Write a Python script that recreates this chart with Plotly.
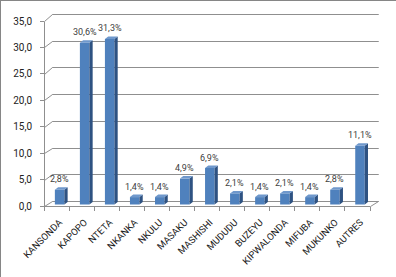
import plotly.graph_objects as go

categories = ["KANSONDA", "KAPOPO", "NTETA", "NKANKA", "NKULU", "MASAKU", "MASHISHI",
              "MUDUDU", "BUZEYU", "KIPWALONDA", "MIFUBA", "MUKUNKO", "AUTRES"]
values = [2.8, 30.6, 31.3, 1.4, 1.4, 4.9, 6.9, 2.1, 1.4, 2.1, 1.4, 2.8, 11.1]
y_ticks = [0, 5, 10, 15, 20, 25, 30, 35]
y_ticktext = ["0,0", "5,0", "10,0", "15,0", "20,0", "25,0", "30,0", "35,0"]

W, H = 396, 277
N = len(categories)
YMAX = 35
# front plane (pixels)
F_X0, F_X1, F_Y0, F_Y35 = 44, 370, 206, 21
# back wall
B_X0, B_X1, B_Y0, B_Y35 = 52, 378, 201, 14
# bar plane (middle depth)
M_X0, M_X1, M_Y0, M_Y35 = 47.1, 372.5, 204.5, 19.4


def crisp(p):
    return round(p) + 0.5


def front_py(v):
    return crisp(F_Y0 + (F_Y35 - F_Y0) * v / YMAX)


def back_py(v):
    return crisp(B_Y0 + (B_Y35 - B_Y0) * v / YMAX)


def xrange_for(x0, x1):
    u = (x1 - x0) / N
    return [-0.5 - x0 / u, N - 0.5 + (W - x1) / u]


def yrange_for(y0, y35):
    s = (y0 - y35) / YMAX
    return [-(H - y0) / s, YMAX + y35 / s]


GRID = "#8f8f8f"
FACE = "#4F81BD"
SIDE = "#2E5282"
TOP = "#6F98CC"
TXT = "#404040"
FONT = "Roboto"

fig = go.Figure()

# invisible trace to establish the categorical front axis
fig.add_trace(go.Scatter(x=categories, y=values, mode="markers", marker=dict(opacity=0),
                         hoverinfo="skip", showlegend=False, xaxis="x", yaxis="y"))

# back wall grid, connecting diagonals and front axis lines on a pixel canvas (x2/y2)
gx, gy = [], []
for v in y_ticks:
    gx += [F_X0 + 0.5, B_X0 + 0.5, B_X1 + 0.5, None]
    gy += [front_py(v), back_py(v), back_py(v), None]
gx += [F_X1 + 0.5, B_X1 + 0.5, None]
gy += [front_py(0), back_py(0), None]
gx += [F_X0 + 0.5, F_X0 + 0.5, None, F_X0, F_X1 + 0.5, None]
gy += [front_py(YMAX), front_py(0), None, front_py(0), front_py(0), None]
fig.add_trace(go.Scatter(x=gx, y=gy, mode="lines", line=dict(color=GRID, width=1),
                         hoverinfo="skip", showlegend=False, xaxis="x2", yaxis="y2"))

idx = list(range(N))
half = 0.19
dx = 0.13
dy = 0.47

fig.add_trace(go.Bar(x=idx, y=values, width=2 * half, marker=dict(color=FACE, line=dict(width=0)),
                     showlegend=False, xaxis="x3", yaxis="y3", hoverinfo="skip"))

sx, sy, tx, ty = [], [], [], []
for i, v in zip(idx, values):
    sx += [i + half, i + half + dx, i + half + dx, i + half, i + half, None]
    sy += [0, dy, v + dy, v, 0, None]
    tx += [i - half, i + half, i + half + dx, i - half + dx, i - half, None]
    ty += [v, v, v + dy, v + dy, v, None]
fig.add_trace(go.Scatter(x=sx, y=sy, fill="toself", fillcolor=SIDE, mode="lines",
                         line=dict(width=0, color=SIDE), showlegend=False, hoverinfo="skip",
                         xaxis="x3", yaxis="y3"))
fig.add_trace(go.Scatter(x=tx, y=ty, fill="toself", fillcolor=TOP, mode="lines",
                         line=dict(width=0, color=TOP), showlegend=False, hoverinfo="skip",
                         xaxis="x3", yaxis="y3"))

shapes = [
    dict(type="line", xref="paper", yref="paper", x0=0, x1=1, y0=1 - 0.5 / H, y1=1 - 0.5 / H,
         line=dict(color="#868686", width=1)),
    dict(type="line", xref="paper", yref="paper", x0=0.5 / W, x1=0.5 / W, y0=0, y1=1,
         line=dict(color="#868686", width=1)),
]
# back wall horizontal gridlines (drawn beneath the bars)
for v in y_ticks:
    shapes.append(dict(type="line", xref="x2", yref="y2", layer="below",
                       x0=B_X0 + 0.5, x1=B_X1 + 0.5, y0=back_py(v), y1=back_py(v),
                       line=dict(color=GRID, width=1)))

annotations = []
for i, v in zip(idx, values):
    annotations.append(dict(x=i, y=v + dy, xref="x3", yref="y3", showarrow=False,
                            text=f"{v:.1f}".replace(".", ",") + "%", yanchor="bottom", yshift=1,
                            font=dict(family=FONT, size=9, color=TXT)))

fig.update_layout(
    template="none",
    width=W, height=H, margin=dict(l=0, r=0, t=0, b=0, pad=0, autoexpand=False),
    paper_bgcolor="white", plot_bgcolor="rgba(0,0,0,0)",
    shapes=shapes, annotations=annotations, showlegend=False,
    xaxis=dict(domain=[0, 1], type="category", categoryorder="array", categoryarray=categories,
               range=xrange_for(F_X0, F_X1), automargin=False, anchor="free",
               position=(H - F_Y0) / H,
               tickson="boundaries", ticks="outside", ticklen=4, tickcolor=GRID, tickwidth=1,
               showline=False, showgrid=False, zeroline=False,
               tickangle=-45, ticklabelstandoff=8, ticklabelshift=3,
               tickfont=dict(family=FONT, size=9.5, color="#222")),
    yaxis=dict(domain=[0, 1], range=yrange_for(F_Y0, F_Y35), tickvals=y_ticks, ticktext=y_ticktext,
               automargin=False, anchor="free", position=F_X0 / W,
               ticks="outside", ticklen=4, tickcolor=GRID, tickwidth=1,
               showline=False, showgrid=False, zeroline=False,
               ticklabelstandoff=6, tickfont=dict(family=FONT, size=10, color="#222")),
    xaxis2=dict(overlaying="x", range=[0, W], visible=False, automargin=False),
    yaxis2=dict(overlaying="y", range=[H, 0], visible=False, automargin=False),
    xaxis3=dict(overlaying="x", range=xrange_for(M_X0, M_X1), visible=False, automargin=False),
    yaxis3=dict(overlaying="y", range=yrange_for(M_Y0, M_Y35), visible=False, automargin=False),
)

fig.write_html("out.html")
